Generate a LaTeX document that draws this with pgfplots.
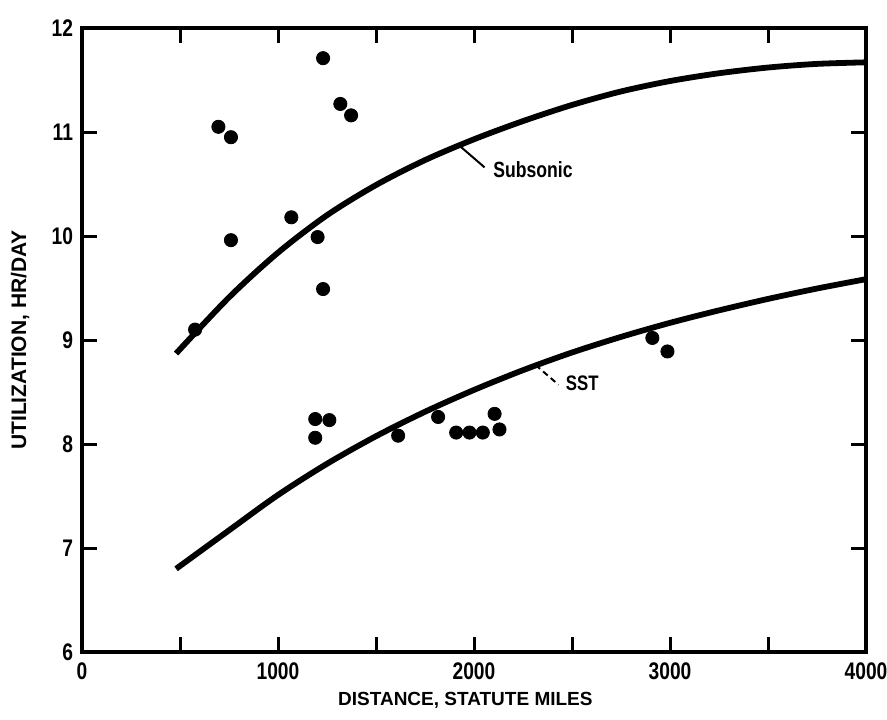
\documentclass[border=0pt]{standalone}
\usepackage{fontspec}
\setmainfont{Liberation Sans}
\newfontfamily\condfont{Liberation Sans}[FakeStretch=0.8]
\usepackage{pgfplots}
\pgfplotsset{compat=1.18}
\begin{document}
\begin{tikzpicture}
\path[use as bounding box] (-41pt,-33.5pt) rectangle (402.5pt,326pt);
\begin{axis}[
  at={(0,0)}, anchor=south west,
  scale only axis,
  width=392pt, height=312pt,
  xmin=0, xmax=4000, ymin=6, ymax=12,
  xtick={0,1000,2000,3000,4000},
  xticklabels={0,1000,2000,3000,4000},
  minor xtick={500,1500,2500,3500},
  ytick={6,7,8,9,10,11,12},
  yticklabels={6,7,8,9,10,11,12},
  tick align=inside,
  major tick length=7.5pt,
  minor tick length=7.5pt,
  every tick/.style={black, line width=1.5pt},
  every minor tick/.style={black, line width=1.5pt},
  axis line style={line width=1.7pt},
  /pgf/number format/assume math mode=true,
  ticklabel style={font=\condfont\bfseries\fontsize{12}{12}\selectfont},
  xticklabel style={yshift=-2pt},
  yticklabel style={xshift=-1pt},
  xlabel={DISTANCE, STATUTE MILES},
  ylabel={UTILIZATION, HR/DAY},
  label style={font=\bfseries\fontsize{9.5}{10}\selectfont},
  xlabel style={at={(axis description cs:0.489,-0.077)}, anchor=center},
  ylabel style={at={(axis description cs:-0.079,0.5)}, anchor=center, font=\bfseries\fontsize{10.5}{11}\selectfont},
]
% Subsonic curve
\addplot[black, line width=2.9pt, smooth, no markers] coordinates {
  (480,8.87) (750,9.41) (1000,9.84) (1250,10.20) (1500,10.49) (1750,10.73)
  (2000,10.93) (2250,11.105) (2500,11.26) (2750,11.39) (3000,11.49)
  (3250,11.565) (3500,11.62) (3750,11.655) (4000,11.67)
};
% SST curve
\addplot[black, line width=2.9pt, smooth, no markers] coordinates {
  (480,6.80) (750,7.17) (1000,7.51) (1250,7.81) (1500,8.075) (1750,8.31)
  (2000,8.52) (2250,8.71) (2500,8.88) (2750,9.03) (3000,9.165)
  (3250,9.285) (3500,9.395) (3750,9.495) (4000,9.585)
};
% Data points
\addplot[only marks, mark=*, mark size=3.3pt, black] coordinates {
  (577,9.10) (696,11.05) (760,10.95) (760,9.96) (1068,10.18) (1202,9.99)
  (1230,11.71) (1230,9.49) (1318,11.27) (1373,11.16)
  (1190,8.24) (1262,8.23) (1190,8.06) (1613,8.08) (1817,8.26)
  (1909,8.11) (1977,8.11) (2045,8.11) (2105,8.29) (2130,8.14)
  (2910,9.02) (2987,8.89)
};
% Leaders and labels
\draw[black, line width=1pt] (axis cs:1931,10.86) -- (axis cs:2054,10.66);
\node[anchor=west, inner sep=0pt, font=\condfont\bfseries\fontsize{11}{11}\selectfont] at (axis cs:2097,10.64) {Subsonic};
\draw[black, line width=1pt, dash pattern=on 3pt off 2pt] (axis cs:2314,8.76) -- (axis cs:2431,8.57);
\node[anchor=west, inner sep=0pt, font=\condfont\bfseries\fontsize{10.5}{11}\selectfont] at (axis cs:2467,8.58) {SST};
\end{axis}
\end{tikzpicture}
\end{document}
